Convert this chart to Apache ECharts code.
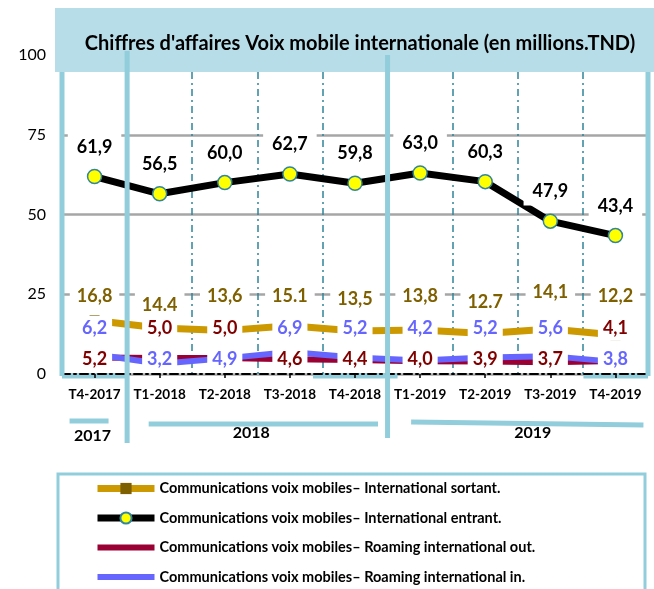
<!DOCTYPE html>
<html><head><meta charset="utf-8">
<script src="https://cdn.jsdelivr.net/npm/echarts@6/dist/echarts.min.js"></script>
<style>html,body{margin:0;padding:0;background:#fff}#c{width:654px;height:589px}</style>
</head><body><div id="c"></div>
<script>
// ---- data ----
const categories = ['T4-2017','T1-2018','T2-2018','T3-2018','T4-2018','T1-2019','T2-2019','T3-2019','T4-2019'];
const yearLabels = ['2017','2018','2019'];
const yTicks = [0, 25, 50, 75, 100];
const titleText = "Chiffres d'affaires Voix mobile internationale (en millions.TND)";
const seriesNames = [
  'Communications voix mobiles\u2013 International sortant.',
  'Communications voix mobiles\u2013 International entrant.',
  'Communications voix mobiles\u2013 Roaming international out.',
  'Communications voix mobiles\u2013 Roaming international in.'
];
const sortant = [16.8, 14.4, 13.6, 15.1, 13.5, 13.8, 12.7, 14.1, 12.2];
const sortantText = ['16,8','14.4','13,6','15.1','13,5','13,8','12.7','14,1','12,2'];
const entrant = [61.9, 56.5, 60.0, 62.7, 59.8, 63.0, 60.3, 47.9, 43.4];
const roamOut = [5.2, 5.0, 5.0, 4.6, 4.4, 4.0, 3.9, 3.7, 4.1];
const roamIn = [6.2, 3.2, 4.9, 6.9, 5.2, 4.2, 5.2, 5.6, 3.8];

// ---- style ----
const FONT = 'Lato';
const LBL = 18;
const sortLabelLevel = 24.4;       // axis value where the sortant labels sit
const sortLabelDy = [0, 9, 0, 0, 3, 0, 6, -4, 0];
const roamUpperLevel = 14.4, roamLowerLevel = 4.8;

const chart = echarts.init(document.getElementById('c'), null, {renderer: 'canvas'});
const yPix = v => chart.convertToPixel({yAxisIndex: 0}, v);
const comma = v => v.toFixed(1).replace('.', ',');

function roamLayout(own, other) {
  return p => ({
    x: p.rect.x + p.rect.width / 2,
    y: yPix(own[p.dataIndex] > other[p.dataIndex] ? roamUpperLevel : roamLowerLevel),
    align: 'center', verticalAlign: 'middle'
  });
}

const option = {
  animation: false,
  backgroundColor: '#fff',
  textStyle: {fontFamily: FONT},
  title: {
    text: titleText, left: 355, top: 29, textAlign: 'center', z: 8,
    textStyle: {fontFamily: FONT, fontWeight: 'bold', fontSize: 20, color: '#000'}
  },
  grid: {left: 62, right: 6, top: 55, bottom: 215, containLabel: false},
  xAxis: {
    type: 'category', data: categories, boundaryGap: true,
    axisLine: {lineStyle: {color: '#000', width: 2, type: [8, 4, 2, 4]}},
    axisTick: {show: true, alignWithLabel: true, length: 4, lineStyle: {color: '#000', width: 1.5}},
    axisLabel: {interval: 0, hideOverlap: false, fontFamily: FONT, fontWeight: 'bold', fontSize: 13.5, color: '#000', margin: 14},
    splitLine: {show: true, interval: 0, lineStyle: {color: '#31849b', width: 1.5, type: [7, 4, 2, 4]}}
  },
  yAxis: {
    type: 'value', min: yTicks[0], max: yTicks[yTicks.length - 1], interval: 25,
    axisLine: {show: false}, axisTick: {show: false},
    axisLabel: {fontFamily: FONT, fontSize: 16, color: '#000', margin: 16},
    splitLine: {lineStyle: {color: '#a6a6a6', width: 2.5}}
  },
  legend: {
    orient: 'vertical', left: 94, top: 480, height: 130, padding: 0,
    itemWidth: 57, itemHeight: 14, itemGap: 12.5,
    lineStyle: {width: 'inherit'},
    textStyle: {fontFamily: FONT, fontWeight: 'bold', fontSize: 14.5, color: '#000', lineHeight: 17},
    data: [
      {name: seriesNames[0]},
      {name: seriesNames[1]},
      {name: seriesNames[2], itemStyle: {opacity: 0}},
      {name: seriesNames[3], itemStyle: {opacity: 0}}
    ]
  },
  series: [
    {
      name: seriesNames[0], type: 'line', data: sortant, z: 2,
      symbol: 'rect', symbolSize: 10,
      itemStyle: {color: '#7f6000'},
      lineStyle: {color: '#cc9900', width: 7},
      label: {
        show: true, formatter: p => sortantText[p.dataIndex],
        fontFamily: FONT, fontWeight: 'bold', fontSize: LBL, color: '#7f6000',
        backgroundColor: '#fff', padding: [3, 7], lineHeight: 20
      },
      labelLayout: p => ({
        x: p.rect.x + p.rect.width / 2,
        y: yPix(sortLabelLevel) + sortLabelDy[p.dataIndex],
        align: 'center', verticalAlign: 'middle'
      })
    },
    {
      name: seriesNames[1], type: 'line', data: entrant, z: 3,
      symbol: 'circle', symbolSize: 14,
      itemStyle: {color: '#ffff00', borderColor: '#31859c', borderWidth: 1.5},
      lineStyle: {color: '#000', width: 7},
      label: {
        show: true, position: 'top', distance: 8, formatter: p => comma(p.value),
        fontFamily: FONT, fontWeight: 'bold', fontSize: LBL, color: '#000',
        backgroundColor: '#fff', padding: [4, 9], lineHeight: 20
      }
    },
    {
      name: seriesNames[2], type: 'line', data: roamOut, z: 2,
      symbol: 'circle', symbolSize: 4,
      itemStyle: {color: '#990033'},
      lineStyle: {color: '#990033', width: 6},
      label: {
        show: true, formatter: p => comma(p.value),
        fontFamily: FONT, fontWeight: 'bold', fontSize: LBL, color: '#800000',
        backgroundColor: '#fff', padding: [2, 5], lineHeight: 20
      },
      labelLayout: roamLayout(roamOut, roamIn)
    },
    {
      name: seriesNames[3], type: 'line', data: roamIn, z: 2,
      symbol: 'circle', symbolSize: 4,
      itemStyle: {color: '#6666ff'},
      lineStyle: {color: '#6666ff', width: 6},
      label: {
        show: true, formatter: p => comma(p.value),
        fontFamily: FONT, fontWeight: 'bold', fontSize: LBL, color: '#6666ff',
        backgroundColor: '#fff', padding: [2, 5], lineHeight: 20
      },
      labelLayout: roamLayout(roamIn, roamOut)
    }
  ]
};
chart.setOption(option);

// ---- decorations derived from the axis ----
const xc = i => chart.convertToPixel({xAxisIndex: 0}, i);
const half = (xc(1) - xc(0)) / 2;
const bnd = i => xc(i) - half;           // boundary to the left of category i
const y0 = yPix(0);
const BL = '#92cddc';
const ln = (x1, y1, x2, y2, w, z) => ({type: 'line', z: z, shape: {x1, y1, x2, y2}, style: {stroke: BL, lineWidth: w}});
const yr = (txt, x, y) => ({type: 'text', z: 8, style: {text: txt, x, y, align: 'center', verticalAlign: 'middle',
  font: 'bold 16px ' + FONT, fill: '#000'}});
const nCat = categories.length;
chart.setOption({
  graphic: [
    {type: 'rect', z: 5, shape: {x: 55, y: 8, width: 599, height: 64}, style: {fill: '#b7dde8'}},
    ln(bnd(0), 72, bnd(0), y0 + 2, 5, 7),
    ln(bnd(0), y0 + 2, bnd(1), y0 + 2, 5, 0),
    ln(bnd(1), 51, bnd(1), 443, 5, 7),
    ln(bnd(5), 55, bnd(5), 438, 5, 7),
    ln(bnd(nCat), 72, bnd(nCat), y0 + 2, 5, 7),
    ln(xc(8) - 32, y0 + 2, bnd(nCat), y0 + 2, 5, 0),
    ln(xc(4) - 42, y0 + 2, bnd(5) + 10, y0 + 2, 5, 0),
    ln(xc(0) - 25, 421, xc(0) + 14, 421, 5, 7),
    ln(xc(1) - 11, 424, xc(4) + 23, 424, 5, 7),
    ln(xc(5) - 9, 422, xc(8) + 28, 425, 5, 7),
    yr(yearLabels[0], xc(0) - 2, 436),
    yr(yearLabels[1], (xc(1) + xc(4)) / 2 - 6, 433),
    yr(yearLabels[2], (xc(5) + xc(8)) / 2 + 15, 433),
    {type: 'rect', z: 3, shape: {x: 58, y: 474, width: 587, height: 130},
      style: {fill: null, stroke: BL, lineWidth: 3}}
  ]
});
</script></body></html>
